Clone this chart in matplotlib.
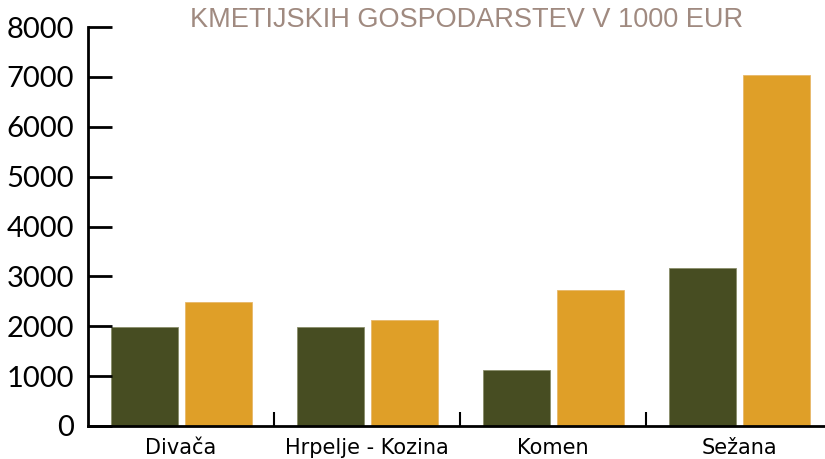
import matplotlib
matplotlib.use("Agg")
import matplotlib.pyplot as plt
import numpy as np

categories = ["Divača", "Hrpelje - Kozina", "Komen", "Sežana"]
series_a = [1980, 1980, 1120, 3165]
series_b = [2485, 2125, 2725, 7035]
yticks = [0, 1000, 2000, 3000, 4000, 5000, 6000, 7000, 8000]
title = "KMETIJSKIH GOSPODARSTEV V 1000 EUR"

fig = plt.figure(figsize=(8.25, 4.59), dpi=100)
ax = fig.add_axes([0.1067, 0.0719, 0.9018, 0.8691])

x = np.arange(len(categories))
w = 0.36
ax.bar(x - 0.198, series_a, width=w, color="#474d22", edgecolor="#8a8e6a", linewidth=0.6)
ax.bar(x + 0.200, series_b, width=w, color="#df9f28", edgecolor="#e8b86a", linewidth=0.6)

ax.set_xlim(-0.5, 3.5)
ax.set_ylim(0, 8000)
ax.set_yticks(yticks)
ax.set_yticklabels([str(v) for v in yticks], fontsize=21, family="Lato")
ax.tick_params(axis="y", direction="in", length=17, width=2, pad=10)

ax.set_xticks(x)
ax.set_xticklabels(categories, fontsize=15)
ax.tick_params(axis="x", length=0, pad=9)
ax.set_xticks(np.arange(0.5, 3.5, 1.0), minor=True)
ax.tick_params(axis="x", which="minor", direction="in", length=10, width=1.5)

for s in ["top", "right"]:
    ax.spines[s].set_visible(False)
for s in ["left", "bottom"]:
    ax.spines[s].set_linewidth(2)

fig.text(0.565, 0.985, title, ha="center", va="top", fontsize=19.5,
         color="#a08a80", family="Liberation Sans")

fig.savefig("out.png", dpi=100)
